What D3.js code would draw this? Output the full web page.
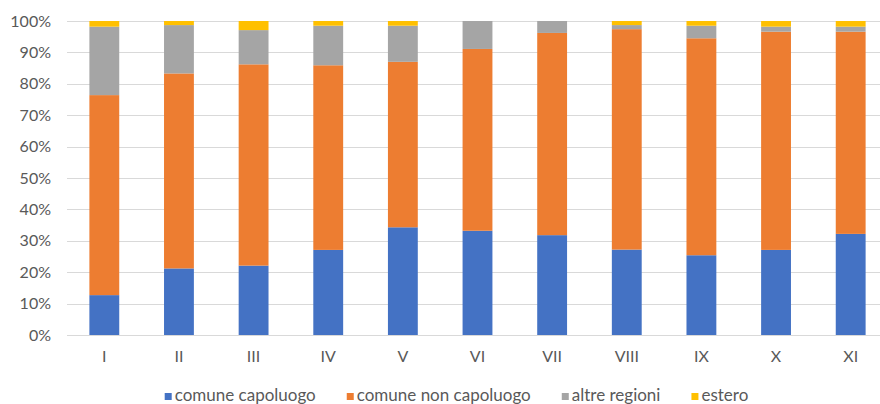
<!DOCTYPE html>
<html>
<head>
<meta charset="utf-8">
<script src="https://cdn.jsdelivr.net/npm/d3@7"></script>
<style>
  html, body { margin: 0; padding: 0; background: #fff; }
  svg { display: block; }
  text { font-family: Lato, "Open Sans", sans-serif; fill: #595959; }
</style>
</head>
<body>
<svg id="chart" width="880" height="404"></svg>
<script>
const categories = ["I", "II", "III", "IV", "V", "VI", "VII", "VIII", "IX", "X", "XI"];
const seriesNames = ["comune capoluogo", "comune non capoluogo", "altre regioni", "estero"];
const capoluogo    = [12.7, 21.2, 22.1, 27.1, 34.3, 33.2, 31.8, 27.2, 25.4, 27.1, 32.2];
const nonCapoluogo = [63.7, 62.1, 64.1, 58.8, 52.7, 57.9, 64.4, 70.2, 69.1, 69.5, 64.4];
const altreRegioni = [21.8, 15.4, 10.9, 12.6, 11.5, 8.9, 3.8, 1.3, 4.0, 1.6, 1.6];
const estero       = [1.8, 1.3, 2.9, 1.5, 1.5, 0, 0, 1.3, 1.5, 1.8, 1.8];
const yTicks = [0, 10, 20, 30, 40, 50, 60, 70, 80, 90, 100];
const colors = ["#4472C4", "#ED7D31", "#A5A5A5", "#FFC000"];

const rows = categories.map((c, i) => ({
  cat: c,
  "comune capoluogo": capoluogo[i],
  "comune non capoluogo": nonCapoluogo[i],
  "altre regioni": altreRegioni[i],
  "estero": estero[i]
}));

const svg = d3.select("#chart");
const x = d3.scaleBand().domain(categories).range([67, 888]).paddingInner(0.6).paddingOuter(0.3);
const y = d3.scaleLinear().domain([0, 100]).range([335, 21]);
const color = d3.scaleOrdinal().domain(seriesNames).range(colors);

// gridlines
svg.append("g").selectAll("line").data(yTicks).join("line")
  .attr("x1", 67).attr("x2", 880)
  .attr("y1", d => Math.round(y(d)) + 0.5).attr("y2", d => Math.round(y(d)) + 0.5)
  .attr("stroke", "#D9D9D9").attr("stroke-width", 1);

// y axis labels
const yAxis = svg.append("g").attr("transform", "translate(51,0)")
  .call(d3.axisLeft(y).tickValues(yTicks).tickSize(0).tickPadding(0).tickFormat(d => d + "%"));
yAxis.select(".domain").remove();
yAxis.selectAll("text").style("font-size", "16px").style("font-family", "Lato, 'Open Sans', sans-serif").attr("fill", "#595959");

// bars
const stacked = d3.stack().keys(seriesNames)(rows);
svg.append("g").selectAll("g").data(stacked).join("g")
  .attr("fill", d => color(d.key))
  .selectAll("rect").data(d => d).join("rect")
  .attr("x", d => x(d.data.cat))
  .attr("width", x.bandwidth())
  .attr("y", d => y(d[1]))
  .attr("height", d => y(d[0]) - y(d[1]));

// x axis labels
const xAxis = svg.append("g").attr("transform", "translate(0,351)")
  .call(d3.axisBottom(x).tickSize(0).tickPadding(0));
xAxis.select(".domain").remove();
xAxis.selectAll("text").style("font-size", "16px").style("font-family", "Lato, 'Open Sans', sans-serif").attr("fill", "#595959").attr("dy", "0.71em");

// legend
const legend = svg.append("g");
const items = legend.selectAll("g").data(seriesNames).join("g");
items.append("rect").attr("width", 7).attr("height", 7).attr("y", -7.5).attr("fill", d => color(d));
items.append("text").attr("x", 10).attr("y", 0)
  .style("font-size", "17px").text(d => d);
let widths = [];
items.each(function() { widths.push(this.getBBox().width); });
const gap = 31;
const total = d3.sum(widths) + gap * (widths.length - 1);
let cx = 456.5 - total / 2;
items.attr("transform", (d, i) => { const t = `translate(${cx},400.5)`; cx += widths[i] + gap; return t; });
</script>
</body>
</html>
